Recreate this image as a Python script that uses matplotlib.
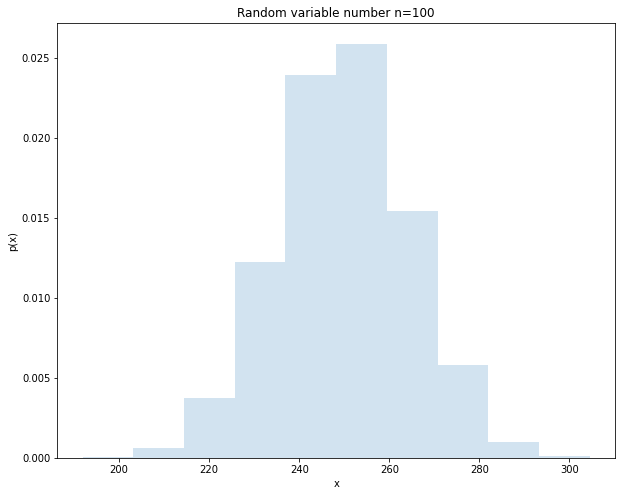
import numpy as np
import matplotlib
matplotlib.use("Agg")
import matplotlib.pyplot as plt

bin_edges = [191.9, 203.16, 214.42, 225.68, 236.94, 248.2, 259.46, 270.72, 281.98, 293.24, 304.5]
densities = [0.00004, 0.00062, 0.00373, 0.01222, 0.02390, 0.02585, 0.01540, 0.00579, 0.00098, 0.0001]
title = "Random variable number n=100"
xlabel = "x"
ylabel = "p(x)"

W, H, DPI = 621, 496, 72
fig = plt.figure(figsize=(W / DPI, H / DPI), dpi=DPI)
l, r, t, b = 57.3, 615, 23.3, 458
ax = fig.add_axes([l / W, 1 - b / H, (r - l) / W, (b - t) / H])

edges = np.array(bin_edges)
ax.bar(edges[:-1], densities, width=np.diff(edges), align='edge',
       color='#1f77b4', alpha=0.2, linewidth=0)
ax.set_title(title, fontsize=12)
ax.set_xlabel(xlabel, fontsize=10)
ax.set_ylabel(ylabel, fontsize=10)
ax.tick_params(labelsize=10)
ax.set_yticks([0, 0.005, 0.01, 0.015, 0.02, 0.025])
ax.yaxis.set_major_formatter(matplotlib.ticker.FormatStrFormatter('%.3f'))
ax.margins(x=0.05, y=0.05)

fig.savefig("out.png", dpi=DPI)
